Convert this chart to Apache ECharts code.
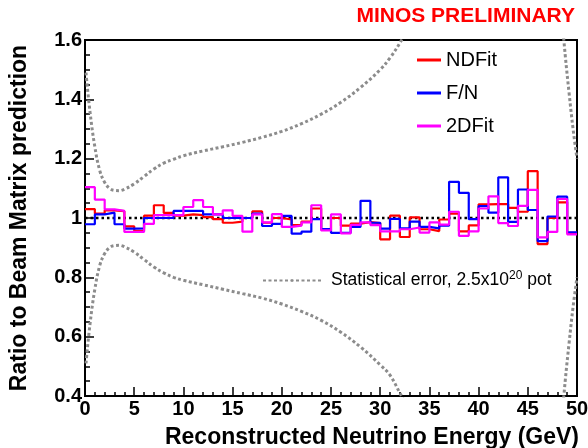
<!DOCTYPE html>
<html>
<head>
<meta charset="utf-8">
<script src="https://cdn.jsdelivr.net/npm/echarts@6/dist/echarts.min.js"></script>
<style>html,body{margin:0;padding:0;background:#fff}#c{width:588px;height:448px}</style>
</head>
<body>
<div id="c"></div>
<script>
// bin lower edges (GeV), 1 GeV bins from 0 to 50
const binEdges = [0,1,2,3,4,5,6,7,8,9,10,11,12,13,14,15,16,17,18,19,20,21,22,23,24,25,26,27,28,29,30,31,32,33,34,35,36,37,38,39,40,41,42,43,44,45,46,47,48,49,50];
const ndfit = [1.030,1.015,1.026,1.023,0.972,0.957,1.008,1.043,1.017,1.008,1.012,1.010,1.003,0.996,0.984,0.988,1.000,1.022,0.984,1.000,0.995,0.976,0.988,1.032,0.963,1.000,0.974,0.981,0.986,0.983,0.928,1.008,0.936,1.002,0.962,0.956,0.995,1.015,0.955,0.975,1.046,1.047,1.047,1.034,1.021,1.158,0.912,1.000,1.053,0.950];
const fn = [0.979,1.012,1.018,0.979,0.964,0.965,1.000,1.000,1.000,1.024,1.024,1.024,1.012,1.012,1.000,1.000,1.000,1.015,0.973,0.980,1.007,0.947,0.954,0.996,0.963,0.950,0.950,0.970,1.058,0.984,0.964,0.997,0.965,0.988,0.970,0.965,0.974,1.122,1.085,0.996,1.040,1.018,1.137,0.987,1.096,1.027,0.922,1.005,1.072,0.952];
const fit2d = [1.104,1.062,1.029,1.024,0.953,0.953,0.980,1.010,1.010,1.010,1.037,1.060,1.037,1.012,1.026,1.007,0.954,1.012,0.985,1.013,0.970,0.974,0.985,1.043,0.958,1.012,0.948,0.977,0.985,0.976,0.955,0.955,0.962,0.968,0.951,0.985,0.978,1.021,0.940,0.955,1.032,1.073,0.983,0.973,1.041,1.095,0.935,0.953,1.064,0.945];
// statistical error band (energy, ratio)
const statUpper = [[0.1,1.49],[0.5,1.36],[1,1.24],[1.5,1.16],[2,1.12],[2.5,1.10],[3,1.093],[3.5,1.092],[4,1.097],[5,1.115],[6,1.14],[7,1.165],[8,1.185],[9,1.198],[10,1.21],[12,1.226],[14,1.24],[16,1.255],[18,1.272],[20,1.292],[22,1.318],[24,1.35],[26,1.39],[28,1.44],[30,1.50],[31,1.54],[32,1.59],[33,1.65]];
const statLower = [[0.1,0.51],[0.5,0.64],[1,0.76],[1.5,0.84],[2,0.88],[2.5,0.90],[3,0.907],[3.5,0.908],[4,0.903],[5,0.885],[6,0.86],[7,0.835],[8,0.815],[9,0.80],[10,0.79],[12,0.775],[14,0.76],[16,0.745],[18,0.73],[20,0.71],[22,0.685],[24,0.655],[26,0.615],[28,0.565],[30,0.505],[31,0.47],[32,0.41],[33,0.35]];
const statUpperRight = [[48.4,1.70],[48.8,1.55],[49.2,1.42],[49.6,1.30],[50,1.20]];
const statLowerRight = [[48.4,0.30],[48.8,0.45],[49.2,0.58],[49.6,0.70],[50,0.80]];
const xTicks = [0,5,10,15,20,25,30,35,40,45,50];
const yTicks = [0.4,0.6,0.8,1,1.2,1.4,1.6];

function hist(vals){
  const d = vals.map((v,i)=>[binEdges[i], v]);
  d.push([binEdges[vals.length], vals[vals.length-1]]);
  return d;
}
const FONT = 'Liberation Sans, Arial, sans-serif';
const chart = echarts.init(document.getElementById('c'), null, {renderer:'canvas'});
const statName = 'Statistical error';
const statStyle = {color:'#8c8c8c', width:3, type:[3,2.5]};
function statSeries(data){
  return {name:statName, type:'line', data:data, smooth:0.4, symbol:'none', clip:true,
    lineStyle:statStyle, itemStyle:{color:'#8c8c8c'}, z:1, silent:true};
}
function histSeries(name, vals, color, z){
  return {name:name, type:'line', step:'end', data:hist(vals), symbol:'none', clip:true,
    lineStyle:{color:color, width:2.2}, itemStyle:{color:color}, z:z};
}
chart.setOption({
  animation:false,
  backgroundColor:'#fff',
  textStyle:{fontFamily:FONT},
  title:{text:'MINOS PRELIMINARY', right:8, top:1,
    textStyle:{color:'#ff0000', fontSize:21, fontWeight:'bold', fontFamily:FONT}},
  grid:{left:85, right:11, top:40, bottom:52, containLabel:false, outerBoundsMode:'none',
    show:true, borderColor:'#000', borderWidth:2, backgroundColor:'transparent'},
  legend:[{
    data:['NDFit','F/N','2DFit'], orient:'vertical', left:412, top:45, itemGap:13, itemWidth:24, itemHeight:3,
    icon:'rect', selectedMode:false,
    textStyle:{fontSize:20, color:'#000', fontFamily:FONT}
  },{
    data:[statName], left:257, top:265, itemWidth:58, itemHeight:3, selectedMode:false,
    formatter:()=> '{t|Statistical error, 2.5x10}{s|20}{t| pot}',
    textStyle:{fontSize:17.5, color:'#000', padding:[0,0,0,5],
      rich:{t:{fontSize:17.5, fontFamily:FONT, color:'#000'},
            s:{fontSize:12, fontFamily:FONT, color:'#000', verticalAlign:'bottom', padding:[0,0,9,0]}}}
  }],
  xAxis:{type:'value', min:0, max:50, interval:5,
    name:'Reconstructed Neutrino Energy (GeV)', nameLocation:'end', nameGap:0,
    nameTextStyle:{fontSize:23, fontWeight:'bold', color:'#000', align:'right', verticalAlign:'top', padding:[30,-2,0,0], fontFamily:FONT},
    axisLine:{show:true, lineStyle:{color:'#000', width:2}},
    axisTick:{show:true, inside:true, length:9, lineStyle:{color:'#000', width:1.5}},
    minorTick:{show:true, splitNumber:5, length:4, lineStyle:{color:'#000', width:1.5}},
    splitLine:{show:false},
    axisLabel:{fontSize:20, fontWeight:'bold', color:'#000', margin:3, fontFamily:FONT}
  },
  yAxis:{type:'value', min:0.4, max:1.6, interval:0.2,
    name:'Ratio to Beam Matrix prediction', nameLocation:'middle', nameRotate:90, nameGap:54,
    nameTextStyle:{fontSize:23, fontWeight:'bold', color:'#000', fontFamily:FONT},
    axisLine:{show:true, lineStyle:{color:'#000', width:2}},
    axisTick:{show:true, inside:true, length:9, lineStyle:{color:'#000', width:1.5}},
    minorTick:{show:true, splitNumber:4, length:5, lineStyle:{color:'#000', width:1.5}},
    splitLine:{show:false},
    axisLabel:{fontSize:20, fontWeight:'bold', color:'#000', margin:3, fontFamily:FONT,
      formatter:(v)=> Math.abs(v-1)<1e-9 ? '1' : v.toFixed(1)}
  },
  series:[
    statSeries(statUpper),
    statSeries(statLower),
    statSeries(statUpperRight),
    statSeries(statLowerRight),
    {name:'unity', type:'line', data:[[0,1],[50,1]], symbol:'none', lineStyle:{color:'#000', width:2.5, type:[2.5,3]}, z:2, silent:true},
    histSeries('NDFit', ndfit, '#ff0000', 3),
    histSeries('F/N', fn, '#0000ff', 4),
    histSeries('2DFit', fit2d, '#ff00ff', 5)
  ]
});
</script>
</body>
</html>
